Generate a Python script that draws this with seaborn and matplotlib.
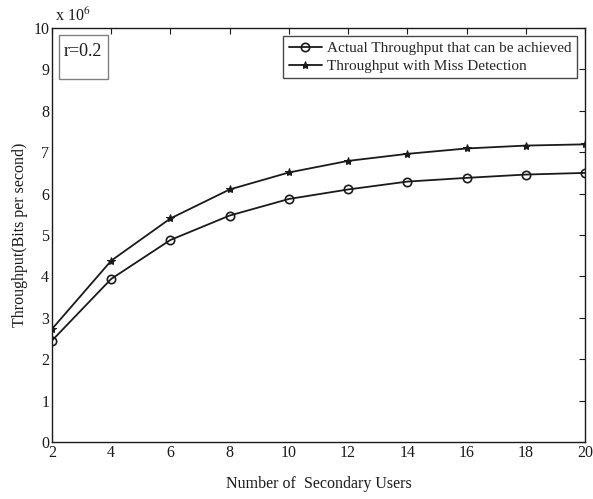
import matplotlib
matplotlib.use("Agg")
import matplotlib.pyplot as plt
import seaborn as sns
import numpy as np
from matplotlib.ticker import FuncFormatter, MultipleLocator
from matplotlib.patches import Rectangle

users = [2, 4, 6, 8, 10, 12, 14, 16, 18, 20]
actual_mbps = [2.45, 3.94, 4.88, 5.47, 5.87, 6.10, 6.29, 6.38, 6.46, 6.50]
miss_mbps = [2.73, 4.38, 5.40, 6.10, 6.51, 6.79, 6.96, 7.09, 7.16, 7.19]
label_actual = "Actual Throughput that can be achieved"
label_miss = "Throughput with Miss Detection"

actual = np.array(actual_mbps) * 1e6
miss = np.array(miss_mbps) * 1e6

sns.set_theme(style="white")
plt.rcParams['font.family'] = ['Liberation Serif', 'DejaVu Serif']
plt.rcParams['mathtext.fontset'] = 'stix'
fs = 11.5

fig = plt.figure(figsize=(5.93, 4.99), dpi=100)
ax = fig.add_axes([52/593, 1-442/499, (585-52)/593, (442-28)/499])

sns.lineplot(x=users, y=actual, ax=ax, color='k', lw=1.3, marker='o',
             markersize=6, markerfacecolor='none', markeredgecolor='k',
             markeredgewidth=1.2, label=label_actual)
sns.lineplot(x=users, y=miss, ax=ax, color='k', lw=1.3, marker='*',
             markersize=6, markerfacecolor='k', markeredgecolor='k',
             label=label_miss)

ax.set_xlim(2, 20)
ax.set_ylim(0, 10e6)
ax.xaxis.set_major_locator(MultipleLocator(2))
ax.yaxis.set_major_locator(MultipleLocator(1e6))
ax.yaxis.set_major_formatter(FuncFormatter(lambda v, p: f"{v/1e6:g}"))
ax.tick_params(direction='in', length=4, width=0.8, top=True, right=True,
               labelsize=fs, pad=2, colors='k')
for s in ax.spines.values():
    s.set_color('k')
    s.set_linewidth(1.0)

ax.set_xlabel("Number of  Secondary Users", fontsize=fs, labelpad=11, color='k')
ax.set_ylabel("Throughput(Bits per second)", fontsize=fs, labelpad=4, color='k')
ax.text(0.005, 1.008, r"x 10$^{6}$", transform=ax.transAxes, fontsize=fs,
        ha='left', va='bottom', color='k')

ax.add_patch(Rectangle((7/533, (442-79)/414), 49/533, 44/414,
                       transform=ax.transAxes, facecolor='white',
                       edgecolor='gray', linewidth=1.0, zorder=5))
ax.text(31/533, (442-51)/414, "r=0.2", transform=ax.transAxes, fontsize=13,
        ha='center', va='center', color='k', zorder=6)

leg = ax.legend(loc='upper right', fontsize=11, frameon=True, fancybox=False,
                edgecolor='k', handlelength=2.2, borderpad=0.35,
                labelspacing=0.25, handletextpad=0.3, borderaxespad=0.55)
leg.get_frame().set_linewidth(1.0)

fig.savefig("out.png", dpi=100)
